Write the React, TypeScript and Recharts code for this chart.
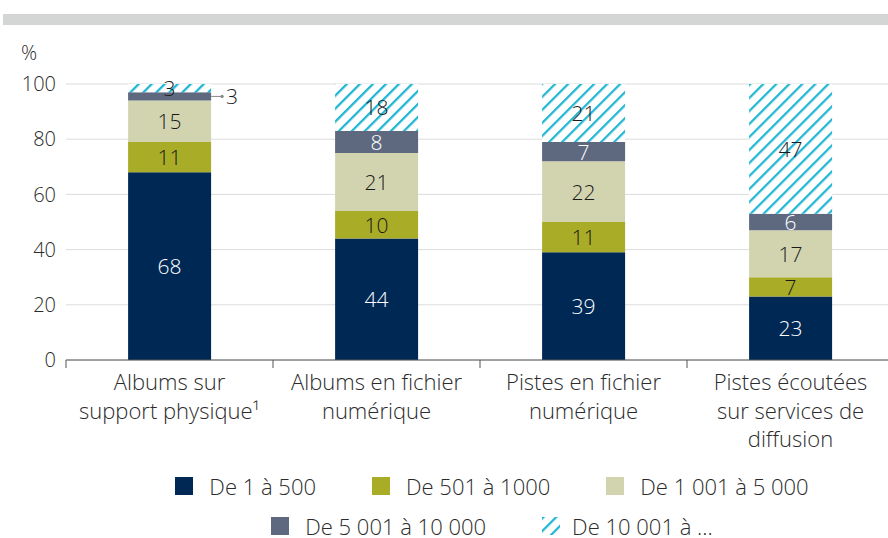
import React from "react";
import { BarChart, Bar, XAxis, YAxis, CartesianGrid, Legend, LabelList } from "recharts";

// catégories (lignes du libellé)
const categories = [
  ["Albums sur", "support physique¹"],
  ["Albums en fichier", "numérique"],
  ["Pistes en fichier", "numérique"],
  ["Pistes écoutées", "sur services de", "diffusion"],
];

const de1a500 = [68, 44, 39, 23];
const de501a1000 = [11, 10, 11, 7];
const de1001a5000 = [15, 21, 22, 17];
const de5001a10000 = [3, 8, 7, 6];
const de10001 = [3, 18, 21, 47];

const yTicks = [0, 20, 40, 60, 80, 100];

const seriesNames = ["De 1 à 500", "De 501 à 1000", "De 1 001 à 5 000", "De 5 001 à 10 000", "De 10 001 à ..."];
const keys = ["s1", "s2", "s3", "s4", "s5"];
const colors = ["#002855", "#A9AC27", "#D2D4B0", "#5E6980", "url(#hatch)"];
const labelColors = ["#fff", "#1a1a1a", "#1a1a1a", "#fff", "#1a1a1a"];

const data = categories.map((c, i) => ({
  name: c.join(" "),
  s1: de1a500[i],
  s2: de501a1000[i],
  s3: de1001a5000[i],
  s4: de5001a10000[i],
  s5: de10001[i],
}));

const FONT = "'Open Sans', sans-serif";

const CategoryTick = (props: any) => {
  const { x, y, payload, width } = props;
  const half = payload.offset ?? width / categories.length / 2;
  const lines = categories[payload.index] ?? [payload.value];
  return (
    <g>
      <line x1={x - half} x2={x - half} y1={y} y2={y + 8} stroke="#555" strokeWidth={1} />
      {lines.map((l: string, i: number) => (
        <text key={i} x={x} y={y + 30 + i * 28.5} textAnchor="middle" fontSize={22} fontWeight={300}
          fill="#2b2b2b" fontFamily={FONT}>
          {l}
        </text>
      ))}
    </g>
  );
};

const makeLabel = (si: number) => (props: any) => {
  const { x, y, width, height, value, index } = props;
  const cy = y + height / 2;
  // petit segment gris de la 1re barre : étiquette à l'extérieur
  if (si === 3 && index === 0) {
    const xr = x + width;
    return (
      <g>
        <line x1={xr} x2={xr + 11} y1={cy} y2={cy} stroke="#888" strokeWidth={1} />
        <circle cx={xr + 11} cy={cy} r={1.6} fill="#888" />
        <text x={xr + 21} y={cy + 8} textAnchor="middle" fontSize={21} fontWeight={300} fill="#1a1a1a" fontFamily={FONT}>
          {value}
        </text>
      </g>
    );
  }
  return (
    <text x={x + width / 2} y={cy + 8} textAnchor="middle" fontSize={21} fontWeight={300} fill={labelColors[si]} fontFamily={FONT}>
      {value}
    </text>
  );
};

const LegendContent = () => {
  const item = (i: number) => (
    <div key={i} style={{ display: "flex", alignItems: "center", marginRight: i === 2 || i === 4 ? 0 : 56 }}>
      {i === 4 ? (
        <svg width={18} height={18} style={{ marginRight: 12 }}>
          <defs>
            <pattern id="hatchLegend" patternUnits="userSpaceOnUse" width={9} height={9} patternTransform="rotate(45)">
              <rect width={9} height={9} fill="#fff" />
              <line x1={0} y1={0} x2={0} y2={9} stroke="#1FB6D3" strokeWidth={4.5} />
            </pattern>
          </defs>
          <rect width={18} height={18} fill="url(#hatchLegend)" />
        </svg>
      ) : (
        <div style={{ width: 18, height: 18, background: colors[i], marginRight: 16 }} />
      )}
      <span style={{ fontSize: 22, fontWeight: 300, color: "#2b2b2b", fontFamily: FONT, lineHeight: "22px" }}>
        {seriesNames[i]}
      </span>
    </div>
  );
  return (
    <div style={{ height: 78, paddingLeft: 84 }}>
      <div style={{ display: "flex", justifyContent: "center", height: 22, marginTop: 15 }}>{[0, 1, 2].map(item)}</div>
      <div style={{ display: "flex", justifyContent: "center", height: 22, marginTop: 18 }}>{[3, 4].map(item)}</div>
    </div>
  );
};

export default function App() {
  return (
    <div style={{ position: "absolute", left: 0, top: 0, width: 888, height: 538, background: "#fff", fontFamily: FONT, overflow: "hidden" }}>
      <div style={{ position: "absolute", left: 3, top: 14, width: 885, height: 11, background: "#D4D6D5" }} />
      <div style={{ position: "absolute", left: 21, top: 39, fontSize: 20, fontWeight: 300, color: "#2b2b2b" }}>%</div>
      <BarChart width={888} height={538} data={data} margin={{ top: 84, right: -6, left: 6, bottom: 0 }} barCategoryGap="30%">
        <defs>
          <pattern id="hatch" patternUnits="userSpaceOnUse" width={9.2} height={9.2} patternTransform="rotate(45)">
            <rect width={9.2} height={9.2} fill="#fff" />
            <line x1={0} y1={0} x2={0} y2={9.2} stroke="#1FB6D3" strokeWidth={4.5} />
          </pattern>
        </defs>
        <CartesianGrid vertical={false} stroke="#dcdcdc" />
        <XAxis
          dataKey="name"
          interval={0}
          height={100}
          tickSize={0}
          tickMargin={0}
          axisLine={{ stroke: "#555" }}
          tickLine={false}
          tick={<CategoryTick />}
        />
        <YAxis
          width={60}
          domain={[0, 100]}
          ticks={yTicks}
          allowDataOverflow
          axisLine={false}
          tickLine={false}
          tickMargin={4}
          tick={{ fontSize: 20, fontWeight: 300, fill: "#2b2b2b", fontFamily: FONT }}
        />
        {keys.map((k, i) => (
          <Bar key={k} dataKey={k} stackId="a" fill={colors[i]} isAnimationActive={false}>
            <LabelList dataKey={k} content={makeLabel(i)} />
          </Bar>
        ))}
        <Legend verticalAlign="bottom" content={<LegendContent />} wrapperStyle={{ height: 78 }} />
      </BarChart>
    </div>
  );
}
